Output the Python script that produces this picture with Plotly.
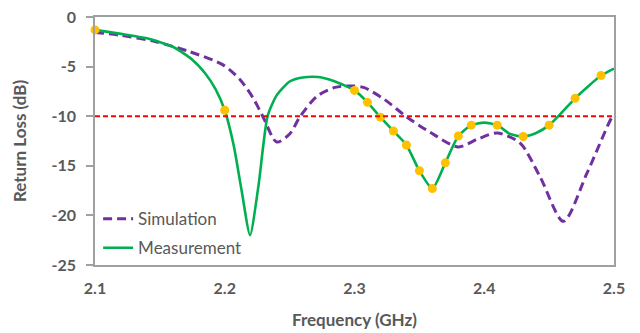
import plotly.graph_objects as go

# ---- data ----
sim_freq = [2.100, 2.120, 2.147, 2.173, 2.199, 2.212, 2.222, 2.230, 2.240, 2.250,
            2.258, 2.271, 2.285, 2.297, 2.307, 2.323, 2.340, 2.358, 2.380, 2.395,
            2.410, 2.4275, 2.443, 2.461, 2.479, 2.498, 2.500]
sim_rl = [-1.55, -1.85, -2.5, -3.5, -4.85, -6.35, -8.2, -10.2, -12.6, -11.8,
          -10.05, -8.0, -7.1, -6.95, -7.1, -8.3, -10.05, -11.6, -13.1, -12.3,
          -11.7, -12.7, -16.1, -20.6, -15.8, -10.2, -9.9]

meas_freq = [2.100, 2.120, 2.140, 2.160, 2.175, 2.185, 2.193, 2.200, 2.207, 2.213,
             2.2195, 2.226, 2.233, 2.240, 2.250, 2.260, 2.272, 2.285, 2.300, 2.310,
             2.320, 2.330, 2.340, 2.350, 2.360, 2.370, 2.380, 2.390, 2.400, 2.410,
             2.420, 2.430, 2.440, 2.450, 2.460, 2.470, 2.480, 2.490, 2.500]
meas_rl = [-1.3, -1.7, -2.15, -3.0, -4.3, -5.7, -7.3, -9.4, -13.0, -17.5,
           -22.0, -17.0, -10.0, -7.9, -6.5, -6.1, -6.05, -6.5, -7.4, -8.6,
           -10.1, -11.5, -12.9, -15.5, -17.3, -14.7, -12.0, -10.9, -10.65, -10.9,
           -11.8, -12.05, -11.7, -10.9, -9.6, -8.2, -7.0, -5.9, -5.2]

marker_freq = [2.10, 2.20, 2.30, 2.31, 2.32, 2.33, 2.34, 2.35, 2.36, 2.37, 2.38,
               2.39, 2.41, 2.43, 2.45, 2.47, 2.49]
marker_rl = [-1.3, -9.4, -7.4, -8.6, -10.1, -11.5, -12.9, -15.5, -17.3, -14.7, -12.0,
             -10.9, -10.9, -12.05, -10.9, -8.2, -5.9]

threshold = -10
x_ticks = [2.1, 2.2, 2.3, 2.4, 2.5]
x_labels = ["2.1", "2.2", "2.3", "2.4", "2.5"]
y_ticks = [0, -5, -10, -15, -20, -25]
y_labels = ["0", "-5", "-10", "-15", "-20", "-25"]

FONT = "Lato"
GRAY = "#595959"
AXIS = "#A0A0A0"

fig = go.Figure()
fig.add_trace(go.Scatter(
    x=sim_freq, y=sim_rl, mode="lines", name="Simulation", legend="legend",
    line=dict(color="#7030A0", width=3, dash="9px,5px", shape="spline", smoothing=0.8)))
fig.add_trace(go.Scatter(
    x=meas_freq, y=meas_rl, mode="lines", name="Measurement", legend="legend2",
    line=dict(color="#00B050", width=2.6, shape="spline", smoothing=0.6)))
fig.add_trace(go.Scatter(
    x=marker_freq, y=marker_rl, mode="markers", showlegend=False, cliponaxis=False,
    marker=dict(color="#FFC000", size=9)))

fig.add_shape(type="line", xref="paper", x0=0, x1=1, yref="y", y0=threshold, y1=threshold,
              line=dict(color="#FF0000", width=2, dash="5px,3px"))

legend_style = dict(xanchor="left", yanchor="middle", bgcolor="rgba(0,0,0,0)",
                    font=dict(size=17, color=GRAY, family=FONT))
fig.update_layout(
    width=640, height=333,
    margin=dict(l=95, r=26, t=17, b=68),
    paper_bgcolor="white", plot_bgcolor="white",
    font=dict(family=FONT, color=GRAY),
    showlegend=True,
    legend=dict(x=0.006, y=0.185, **legend_style),
    legend2=dict(x=0.006, y=0.068, **legend_style),
)
fig.update_xaxes(
    range=[2.1, 2.5], tickvals=x_ticks, ticktext=["<b>%s</b>" % t for t in x_labels],
    showgrid=False, zeroline=False, showline=True, linecolor=AXIS, linewidth=1.5,
    mirror=True, ticks="", tickfont=dict(size=16, family=FONT, color=GRAY),
    ticklabelstandoff=8,
    title=dict(text="<b>Frequency (GHz)</b>", font=dict(size=17, family=FONT, color=GRAY), standoff=18),
    automargin=False)
fig.update_yaxes(
    range=[-25, 0], tickvals=y_ticks, ticktext=["<b>%s</b>" % t for t in y_labels],
    showgrid=False, zeroline=False, showline=True, linecolor=AXIS, linewidth=1.5,
    mirror=True, ticks="outside", ticklen=7, tickcolor=AXIS, tickwidth=1.5,
    tickfont=dict(size=16, family=FONT, color=GRAY),
    ticklabelstandoff=7,
    title=dict(text="<b>Return Loss (dB)</b>", font=dict(size=17, family=FONT, color=GRAY), standoff=21),
    automargin=False)

fig.write_html("out.html", config={"displayModeBar": False},
               post_script="document.body.style.margin='0';")
